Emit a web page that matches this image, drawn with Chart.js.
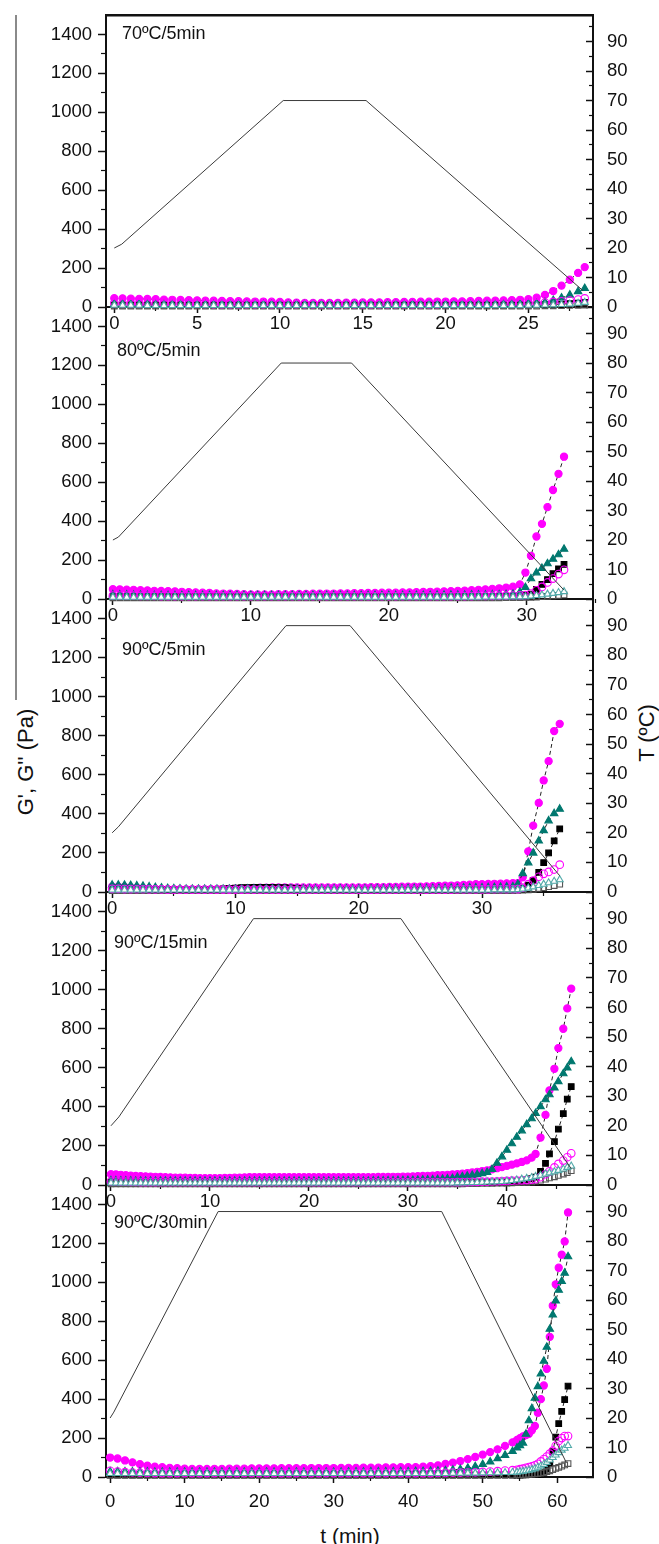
<!DOCTYPE html>
<html>
<head>
<meta charset="utf-8">
<script src="https://cdn.jsdelivr.net/npm/chart.js@4.4.1/dist/chart.umd.min.js"></script>
<style>
  body { margin: 0; background: #fff; }
  #page { position: relative; width: 659px; height: 1544px; overflow: hidden; font-family: "Liberation Sans", Arial, sans-serif; color: #111; }
  #page canvas { position: absolute; left: 0; }
  .tag { position: absolute; font-size: 18px; line-height: 20px; white-space: nowrap; }
  .title { position: absolute; font-size: 22px; line-height: 26px; white-space: nowrap; }
  #edge { position: absolute; left: 15px; top: 15px; width: 2px; height: 685px; background: #8a8a8a; }
</style>
</head>
<body>
<div id="page">
  <div id="edge"></div>
  <div class="title" style="left:26px;top:762px;transform:translate(-50%,-50%) rotate(-90deg)">G', G'' (Pa)</div>
  <div class="title" style="left:647px;top:733px;transform:translate(-50%,-50%) rotate(-90deg)">T (ºC)</div>
  <div class="title" style="left:350px;top:1536px;font-size:21px;transform:translate(-50%,-50%)">t (min)</div>
</div>
<script>
// ---- axis ticks ----
const gTicks = [0, 200, 400, 600, 800, 1000, 1200, 1400];
const gMinor = [100, 300, 500, 700, 900, 1100, 1300];
const tempTicks = [0, 10, 20, 30, 40, 50, 60, 70, 80, 90];
const tempMinor = [5, 15, 25, 35, 45, 55, 65, 75, 85, 95];

const panelTags = ["70ºC/5min", "80ºC/5min", "90ºC/5min", "90ºC/15min", "90ºC/30min"];
const xMajor = [[0, 5, 10, 15, 20, 25], [0, 10, 20, 30], [0, 10, 20, 30], [0, 10, 20, 30, 40], [0, 10, 20, 30, 40, 50, 60]];
const xMinor = [[2.5, 7.5, 12.5, 17.5, 22.5, 27.5], [5, 15, 25, 35], [5, 15, 25, 35], [5, 15, 25, 35, 45], [5, 15, 25, 35, 45, 55]];
const xRange = [[-0.5, 28.9], [-0.5, 34.8], [-0.5, 39], [-0.5, 48.7], [-0.55, 64.8]];

// ---- temperature program (right axis) ----
const tempTime1 = [0, 0.45, 10.2, 15.2, 28.3];
const tempVal1 = [20, 21.3, 70, 70, 5.5];
const tempTime2 = [0, 0.4, 12.2, 17.3, 32.7];
const tempVal2 = [20, 21, 80, 80, 3];
const tempTime3 = [0, 0.5, 14.1, 19.3, 36.3];
const tempVal3 = [20, 22, 90, 90, 5.5];
const tempTime4 = [0, 0.8, 14.4, 29.3, 46.5];
const tempVal4 = [20, 23, 90, 90, 5.5];
const tempTime5 = [0, 0.5, 14.5, 44.5, 61.2];
const tempVal5 = [20, 22, 90, 90, 5];

// ---- panel 1: 70ºC/5min ----
const time1 = [0,0.5,1,1.5,2,2.5,3,3.5,4,4.5, 5,5.5,6,6.5,7,7.5,8,8.5,9,9.5,
  10,10.5,11,11.5,12,12.5,13,13.5,14,14.5, 15,15.5,16,16.5,17,17.5,18,18.5,19,19.5,
  20,20.5,21,21.5,22,22.5,23,23.5,24,24.5, 25,25.5,26,26.5,27,27.5,28,28.4];
const magFill1 = [45,44,43,42,41,40,38,37,36,35, 34,33,32,31,30,30,29,28,28,27,
  26,24,22,21,21,21,21,21,22,22, 23,24,24,25,25,26,26,27,27,28,
  28,29,29,30,31,32,33,34,35,37, 40,48,62,82,110,140,175,205];
const magOpen1 = [20,20,19,19,18,18,17,17,17,16, 16,16,15,15,15,15,14,14,14,14,
  14,14,14,14,14,14,14,14,14,14, 14,14,14,14,15,15,15,15,15,15,
  16,16,16,16,17,17,17,18,18,19, 20,21,23,26,29,33,38,44];
const tealFill1 = [15,15,14,14,14,13,13,13,13,12, 12,12,12,12,12,12,12,12,12,12,
  12,12,12,12,12,12,12,12,12,12, 12,12,12,12,12,12,12,12,12,12,
  12,12,12,13,13,13,13,14,14,15, 16,18,24,34,47,62,80,96];
const tealOpen1 = [9,9,9,9,8,8,8,8,8,8, 8,8,8,8,8,8,8,8,8,8,
  8,8,8,8,8,8,8,8,8,8, 8,8,8,8,8,8,8,8,8,8,
  8,8,8,8,8,8,8,8,8,8, 9,9,10,11,13,15,19,24];
const blkFill1 = [10,10,10,10,10,10,10,10,10,10, 10,10,10,10,10,10,10,10,10,10,
  10,10,10,10,10,10,10,10,10,10, 10,10,10,10,10,10,10,10,10,10,
  10,10,10,10,10,10,10,10,10,10, 10,11,12,13,15,17,20,24];
const blkOpen1 = [5,5,5,5,5,5,5,5,5,5, 5,5,5,5,5,5,5,5,5,5,
  5,5,5,5,5,5,5,5,5,5, 5,5,5,5,5,5,5,5,5,5,
  5,5,5,5,5,5,5,5,5,5, 5,5,6,6,7,8,9,10];

// ---- panel 2: 80ºC/5min ----
const time2 = [0,0.5,1,1.5,2,2.5,3,3.5,4,4.5, 5,5.5,6,6.5,7,7.5,8,8.5,9,9.5,
  10,10.5,11,11.5,12,12.5,13,13.5,14,14.5, 15,15.5,16,16.5,17,17.5,18,18.5,19,19.5,
  20,20.5,21,21.5,22,22.5,23,23.5,24,24.5, 25,25.5,26,26.5,27,27.5,28,28.5,29,29.5,
  29.9,30.3,30.7,31.1,31.5,31.9,32.3,32.7];
const magFill2 = [50,49,48,47,45,44,42,41,40,39, 37,35,34,32,31,29,28,27,26,25,
  24,24,24,24,25,25,25,26,26,27, 27,28,28,29,29,30,30,31,31,32,
  32,33,34,34,35,36,37,38,39,40, 42,43,45,47,49,52,55,58,63,75,
  136,222,321,386,472,560,643,731];
const magOpen2 = [18,18,17,17,16,16,16,15,15,15, 14,14,14,14,14,14,14,14,14,14,
  14,14,14,14,14,14,14,14,14,14, 14,14,14,14,14,14,14,14,14,14,
  14,14,14,14,14,14,14,14,14,14, 15,15,15,16,16,16,17,17,18,19,
  20,28,45,62,85,105,128,150];
const tealFill2 = [22,21,21,20,20,19,19,19,18,18, 18,18,18,18,18,18,18,18,18,18,
  18,18,18,18,18,18,18,18,18,18, 18,18,18,18,18,18,18,18,18,18,
  18,18,18,19,19,19,19,20,20,20, 20,20,21,21,21,22,22,23,25,35,
  60,105,135,158,182,205,228,256];
const tealOpen2 = [9,9,9,9,9,9,9,9,9,9, 9,9,9,9,9,9,9,9,9,9,
  9,9,9,9,9,9,9,9,9,9, 9,9,9,9,9,9,9,9,9,9,
  9,9,9,9,9,9,9,9,9,9, 9,9,9,9,10,10,10,10,11,11,
  12,15,18,21,25,29,33,38];
const blkFill2 = [12,12,12,12,12,12,12,12,12,12, 12,12,12,12,12,12,12,12,12,12,
  12,12,12,12,12,12,12,12,12,12, 12,12,12,12,12,12,12,12,12,12,
  12,12,12,12,12,12,12,12,12,12, 12,12,12,13,13,13,14,14,15,16,
  20,25,50,75,100,130,155,178];
const blkOpen2 = [6,6,6,6,6,6,6,6,6,6, 6,6,6,6,6,6,6,6,6,6,
  6,6,6,6,6,6,6,6,6,6, 6,6,6,6,6,6,6,6,6,6,
  6,6,6,6,6,6,6,6,6,6, 6,6,6,6,6,6,6,7,7,7,
  8,9,10,12,14,16,18,21];

// ---- panel 3: 90ºC/5min ----
const time3 = [0,0.5,1,1.5,2,2.5,3,3.5,4,4.5, 5,5.5,6,6.5,7,7.5,8,8.5,9,9.5,
  10,10.5,11,11.5,12,12.5,13,13.5,14,14.5, 15,15.5,16,16.5,17,17.5,18,18.5,19,19.5,
  20,20.5,21,21.5,22,22.5,23,23.5,24,24.5, 25,25.5,26,26.5,27,27.5,28,28.5,29,29.5,
  30,30.5,31,31.5,32,32.5, 32.9,33.3,33.75,34.15,34.6,35,35.4,35.85,36.3];
const magFill3 = [28,27,26,24,22,20,18,16,15,14, 13,13,13,13,13,13,14,14,15,16,
  17,18,20,21,22,22,23,23,23,23, 23,23,23,23,23,23,24,24,24,24,
  24,24,25,25,25,26,26,27,27,28, 28,29,30,31,32,33,34,36,38,40,
  40,41,42,43,44,45, 45,75,208,340,456,571,670,824,861];
const magOpen3 = [16,16,15,15,14,14,13,13,13,12, 12,12,12,12,12,12,12,12,12,12,
  12,12,12,12,12,12,12,12,12,12, 12,12,12,12,12,12,12,12,12,12,
  12,12,12,12,12,12,12,12,12,12, 12,12,12,12,12,12,13,13,13,13,
  13,13,14,14,14,14, 15,22,40,58,78,93,103,115,140];
const tealFill3 = [36,36,35,34,32,30,27,24,21,19, 17,16,15,15,15,15,15,15,15,15,
  15,15,16,16,16,16,16,16,16,16, 16,16,16,16,16,16,16,16,16,16,
  16,16,16,17,17,17,17,17,18,18, 18,18,19,19,19,20,20,21,21,22,
  22,23,24,25,26,28, 40,95,150,200,262,315,365,402,425];
const tealOpen3 = [10,10,10,10,10,10,10,10,10,10, 10,10,10,10,10,10,10,10,10,10,
  10,10,10,10,10,10,10,10,10,10, 10,10,10,10,10,10,10,10,10,10,
  10,10,10,10,10,10,10,10,10,10, 10,10,10,10,10,10,10,10,10,10,
  10,10,11,11,11,11, 12,15,20,26,33,40,47,55,63];
const blkFill3 = [12,12,12,12,12,12,12,12,12,12, 12,12,12,12,12,12,13,14,16,18,
  20,22,23,24,24,24,24,23,22,20, 18,16,14,13,12,12,12,12,12,12,
  12,12,12,12,12,12,12,12,12,12, 12,12,12,12,12,12,12,12,12,12,
  12,12,12,13,13,14, 15,20,35,60,100,150,200,262,323];
const blkOpen3 = [7,7,7,7,7,7,7,7,7,7, 7,7,7,7,7,7,7,7,7,7,
  7,7,7,7,7,7,7,7,7,7, 7,7,7,7,7,7,7,7,7,7,
  7,7,7,7,7,7,7,7,7,7, 7,7,7,7,7,7,7,7,7,7,
  7,7,7,7,7,7, 8,9,11,14,18,22,27,33,40];

// ---- panel 4: 90ºC/15min ----
const time4 = [0,0.5,1,1.5,2,2.5,3,3.5,4,4.5, 5,5.5,6,6.5,7,7.5,8,8.5,9,9.5,
  10,10.5,11,11.5,12,12.5,13,13.5,14,14.5, 15,15.5,16,16.5,17,17.5,18,18.5,19,19.5,
  20,20.5,21,21.5,22,22.5,23,23.5,24,24.5, 25,25.5,26,26.5,27,27.5,28,28.5,29,29.5,
  30,30.5,31,31.5,32,32.5,33,33.5,34,34.5, 35,35.5,36,36.5,37,37.5,38,38.5,39,39.5,
  40,40.5,41,41.5,42,42.5, 42.9,43.4,43.9,44.3,44.8,45.2,45.7,46.1,46.5];
const magFill4 = [55,54,52,50,48,46,45,44,43,42, 41,40,39,38,37,37,36,36,35,35,
  35,35,35,36,36,37,38,39,40,40, 40,40,40,40,40,40,40,40,40,40,
  40,40,40,40,40,40,40,40,40,40, 40,40,40,40,41,41,41,42,42,43,
  43,44,45,46,47,48,50,51,52,54, 56,58,61,64,67,71,75,80,86,92,
  98,104,111,118,126,140, 159,243,359,484,595,701,800,904,1005];
const magOpen4 = [18,18,17,17,16,16,15,15,15,15, 14,14,14,14,14,14,14,14,14,14,
  14,14,14,14,14,14,14,14,14,14, 14,14,14,14,14,14,14,14,14,14,
  14,14,14,14,14,14,14,14,14,14, 14,14,14,14,14,14,14,14,14,14,
  14,14,14,14,14,14,14,14,14,14, 15,15,15,16,16,17,17,18,19,20,
  21,22,23,24,25,27, 30,40,55,70,90,108,125,142,162];
const tealFill4 = [22,22,21,21,21,20,20,20,20,20, 20,20,20,20,20,20,20,20,20,20,
  20,20,20,20,20,20,20,20,20,20, 20,20,20,20,20,20,20,20,20,20,
  20,20,20,20,20,20,20,20,20,20, 20,20,20,21,21,21,22,22,23,23,
  24,24,25,26,27,28,29,30,32,34, 40,43,46,50,54,59,65,80,112,145,
  179,212,245,278,310,340, 367,402,437,463,497,530,570,600,632];
const tealOpen4 = [10,10,10,10,10,10,10,10,10,10, 10,10,10,10,10,10,10,10,10,10,
  10,10,10,10,10,10,10,10,10,10, 10,10,10,10,10,10,10,10,10,10,
  10,10,10,10,10,10,10,10,10,10, 10,10,10,10,10,10,10,10,10,10,
  10,10,10,10,10,10,10,10,10,10, 11,11,12,12,13,14,15,16,17,18,
  20,23,26,30,34,38, 44,50,56,62,68,75,82,90,97];
const blkFill4 = [15,15,15,15,15,15,15,15,15,15, 15,15,15,15,15,15,15,15,15,15,
  15,15,15,15,15,15,15,15,15,15, 15,15,15,15,15,15,15,15,15,15,
  15,15,15,15,15,15,15,15,15,15, 15,15,15,15,15,15,15,15,15,15,
  15,15,15,15,15,15,15,15,15,15, 15,15,15,15,15,15,15,15,15,15,
  16,17,19,22,26,32, 40,70,111,159,222,286,365,440,504];
const blkOpen4 = [6,6,6,6,6,6,6,6,6,6, 6,6,6,6,6,6,6,6,6,6,
  6,6,6,6,6,6,6,6,6,6, 6,6,6,6,6,6,6,6,6,6,
  6,6,6,6,6,6,6,6,6,6, 6,6,6,6,6,6,6,6,6,6,
  6,6,6,6,6,6,6,6,6,6, 6,6,7,7,7,8,8,8,9,9,
  10,11,12,13,14,16, 20,25,30,36,42,49,56,64,73];

// ---- panel 5: 90ºC/30min ----
const time5 = [0,1,2,3,4,5,6,7,8,9, 10,11,12,13,14,15,16,17,18,19,
  20,21,22,23,24,25,26,27,28,29, 30,31,32,33,34,35,36,37,38,39,
  40,41,42,43,44,45,46,47,48,49, 50,51,52,53,54,
  54.6,55,55.4,55.8,56.2,56.6,57,57.4,57.8,58.2,58.6,59,59.4,59.8,60.2,60.6,61,61.45];
const magFill5 = [100,95,85,75,66,58,53,50,47,45, 43,42,41,41,42,42,43,43,43,44,
  44,44,44,45,45,45,45,46,46,46, 46,47,47,47,48,48,48,49,49,50,
  50,51,53,56,60,67,74,82,92,103, 115,128,142,160,178,
  190,200,208,215,222,240,262,330,400,470,556,720,880,990,1075,1142,1210,1359];
const magOpen5 = [32,28,25,23,22,21,20,20,20,20, 20,20,20,20,20,20,20,20,20,20,
  20,20,20,20,20,20,20,20,20,20, 20,20,20,20,20,20,20,20,20,20,
  20,20,20,20,21,21,22,22,23,24, 26,28,30,33,35,
  37,40,43,47,51,55,60,68,80,92,105,120,135,160,185,200,210,210];
const tealFill5 = [28,28,27,27,26,26,25,25,25,25, 25,25,25,25,25,25,25,25,25,25,
  25,25,25,25,25,25,25,25,25,25, 25,25,26,26,26,27,27,27,28,28,
  28,29,29,30,31,33,36,40,46,54, 65,78,95,112,132,
  150,162,175,220,290,352,405,465,530,595,667,760,833,905,960,1005,1048,1132];
const tealOpen5 = [18,18,18,18,18,18,18,18,18,18, 18,18,18,18,18,18,18,18,18,18,
  18,18,18,18,18,18,18,18,18,18, 18,18,18,18,18,18,18,18,18,18,
  18,18,18,18,18,18,19,19,20,20, 21,22,22,23,24,
  25,27,29,32,35,38,43,50,57,65,75,87,100,113,125,138,148,162];
const blkFill5 = [10,10,10,10,10,10,10,10,10,10, 10,10,10,10,10,10,10,10,10,10,
  10,10,10,10,10,10,10,10,10,10, 10,10,10,10,10,10,10,10,10,10,
  10,10,10,10,10,10,10,10,10,10, 10,10,10,10,10,
  10,10,11,11,12,12,13,14,15,25,40,70,130,205,274,337,398,467];
const blkOpen5 = [10,10,10,10,10,10,10,10,10,10, 10,10,10,10,10,10,10,10,10,10,
  10,10,10,10,10,10,10,10,10,10, 10,10,10,10,10,10,10,10,10,10,
  10,10,10,10,10,10,10,10,10,10, 10,10,11,11,11,
  12,12,13,13,14,15,16,18,20,23,27,32,38,44,50,56,62,69];

const panels = [
  { time: time1, magFill: magFill1, magOpen: magOpen1, tealFill: tealFill1, tealOpen: tealOpen1, blkFill: blkFill1, blkOpen: blkOpen1, tempTime: tempTime1, tempVal: tempVal1 },
  { time: time2, magFill: magFill2, magOpen: magOpen2, tealFill: tealFill2, tealOpen: tealOpen2, blkFill: blkFill2, blkOpen: blkOpen2, tempTime: tempTime2, tempVal: tempVal2 },
  { time: time3, magFill: magFill3, magOpen: magOpen3, tealFill: tealFill3, tealOpen: tealOpen3, blkFill: blkFill3, blkOpen: blkOpen3, tempTime: tempTime3, tempVal: tempVal3 },
  { time: time4, magFill: magFill4, magOpen: magOpen4, tealFill: tealFill4, tealOpen: tealOpen4, blkFill: blkFill4, blkOpen: blkOpen4, tempTime: tempTime4, tempVal: tempVal4 },
  { time: time5, magFill: magFill5, magOpen: magOpen5, tealFill: tealFill5, tealOpen: tealOpen5, blkFill: blkFill5, blkOpen: blkOpen5, tempTime: tempTime5, tempVal: tempVal5 }
];

// layout of the stacked frames
const FONT = '"Liberation Sans", Arial, sans-serif';
const panelTop = [15, 307, 599, 892, 1185];
const panelBottom = [307, 599, 892, 1185, 1477];
const tagPos = [[122, 33], [117, 350], [122, 649], [114, 942], [114, 1222]];
// top box is taller than any tick-label padding so the frame top stays put
const TOP_PAD = 40, BOTTOM_PAD = 45, LEFT_W = 106, RIGHT_W = 66;
const INK = '#111';

const MAGENTA = '#ff00ff', TEAL = '#00786f', TEAL_LIGHT = '#52a9a9';

function pts(xs, ys) {
  return xs.map((x, i) => ({ x: x, y: ys[i] }));
}

function tickList(values) {
  return s => { s.ticks = values.map(v => ({ value: v })); };
}

function markers(label, data, style, color, fill, radius, line) {
  const ds = {
    label: label, data: data, yAxisID: 'y', xAxisID: 'x', clip: false,
    pointStyle: style, pointRadius: radius, pointBackgroundColor: fill,
    pointBorderColor: color, pointBorderWidth: 1.1, showLine: !!line
  };
  if (line) {
    ds.borderColor = '#222';
    ds.borderWidth = 1;
    ds.borderDash = [4, 3];
  }
  return ds;
}

const page = document.getElementById('page');

panels.forEach((p, i) => {
  const h = panelBottom[i] - panelTop[i];
  const H = TOP_PAD + h + BOTTOM_PAD;
  const cv = document.createElement('canvas');
  cv.width = 659; cv.height = H;
  cv.style.width = '659px'; cv.style.height = H + 'px';
  cv.style.top = (panelTop[i] - TOP_PAD) + 'px';
  page.appendChild(cv);

  const tag = document.createElement('div');
  tag.className = 'tag';
  tag.textContent = panelTags[i];
  tag.style.left = tagPos[i][0] + 'px';
  tag.style.top = (tagPos[i][1] - 10) + 'px';
  page.appendChild(tag);

  const [xMin, xMax] = xRange[i];
  const tickFont = { family: FONT, size: 18.5 };
  const last = i === panels.length - 1;

  new Chart(cv, {
    type: 'scatter',
    data: {
      datasets: [
        { label: 'T', data: pts(p.tempTime, p.tempVal), yAxisID: 'yT', xAxisID: 'x', showLine: true,
          pointRadius: 0, borderColor: '#3a3a3a', borderWidth: 1, clip: false },
        markers("G'' teal", pts(p.time, p.tealOpen), 'triangle', TEAL_LIGHT, '#ffffff', 4, false),
        markers("G'' magenta", pts(p.time, p.magOpen), 'circle', MAGENTA, 'rgba(255,255,255,0)', 3.8, false),
        markers("G'' black", pts(p.time, p.blkOpen), 'rect', '#555', 'rgba(255,255,255,0)', 4, false),
        markers("G' teal", pts(p.time, p.tealFill), 'triangle', TEAL, TEAL, 4.3, true),
        markers("G' black", pts(p.time, p.blkFill), 'rect', '#000', '#000', 4, true),
        markers("G' magenta", pts(p.time, p.magFill), 'circle', MAGENTA, MAGENTA, 3.6, true)
      ]
    },
    options: {
      responsive: false,
      animation: false,
      events: [],
      layout: { padding: 0 },
      plugins: { legend: { display: false }, tooltip: { enabled: false } },
      scales: {
        x: {
          axis: 'x', type: 'linear', position: 'bottom', weight: 1, min: xMin, max: xMax,
          afterBuildTicks: tickList(xMajor[i]),
          afterFit: s => { s.height = BOTTOM_PAD; },
          ticks: { autoSkip: false, maxRotation: 0, padding: last ? 8 : 0, color: INK, font: tickFont, callback: v => String(v) },
          grid: { display: true, drawOnChartArea: false, tickLength: 6, tickWidth: 1.5, tickColor: INK },
          border: { display: true, width: 2, color: INK }
        },
        xMinor: {
          axis: 'x', type: 'linear', position: 'bottom', weight: 0, min: xMin, max: xMax,
          afterBuildTicks: tickList(xMinor[i]),
          afterFit: s => { s.height = 0; },
          ticks: { display: false },
          grid: { display: true, drawOnChartArea: false, tickLength: 4, tickWidth: 1.2, tickColor: INK },
          border: { display: false }
        },
        xTop: {
          axis: 'x', type: 'linear', position: 'top', min: xMin, max: xMax,
          afterFit: s => { s.height = TOP_PAD; },
          ticks: { display: false },
          grid: { display: false },
          border: { display: i === 0, width: 2.5, color: INK }
        },
        y: {
          axis: 'y', type: 'linear', position: 'left', weight: 1, min: 0, max: 1500,
          afterBuildTicks: tickList(gTicks),
          afterFit: s => { s.width = LEFT_W; },
          ticks: { autoSkip: false, padding: 6, color: INK, font: tickFont, callback: v => String(v) },
          grid: { display: true, drawOnChartArea: false, tickLength: 8, tickWidth: 1.5, tickColor: INK },
          border: { display: true, width: 2, color: INK }
        },
        yMinor: {
          axis: 'y', type: 'linear', position: 'left', weight: 0, min: 0, max: 1500,
          afterBuildTicks: tickList(gMinor),
          afterFit: s => { s.width = 0; },
          ticks: { display: false },
          grid: { display: true, drawOnChartArea: false, tickLength: 5, tickWidth: 1.2, tickColor: INK },
          border: { display: false }
        },
        yT: {
          axis: 'y', type: 'linear', position: 'right', weight: 1, min: 0, max: 99,
          afterBuildTicks: tickList(tempTicks),
          afterFit: s => { s.width = RIGHT_W; },
          ticks: { autoSkip: false, padding: 21, color: INK, font: tickFont, callback: v => String(v) },
          grid: { display: true, drawOnChartArea: false, tickLength: -7, tickWidth: 1.5, tickColor: INK },
          border: { display: true, width: 2, color: INK }
        },
        yTMinor: {
          axis: 'y', type: 'linear', position: 'right', weight: 0, min: 0, max: 99,
          afterBuildTicks: tickList(tempMinor),
          afterFit: s => { s.width = 0; },
          ticks: { display: false },
          grid: { display: true, drawOnChartArea: false, tickLength: -4, tickWidth: 1.2, tickColor: INK },
          border: { display: false }
        }
      }
    }
  });
});
</script>
</body>
</html>
